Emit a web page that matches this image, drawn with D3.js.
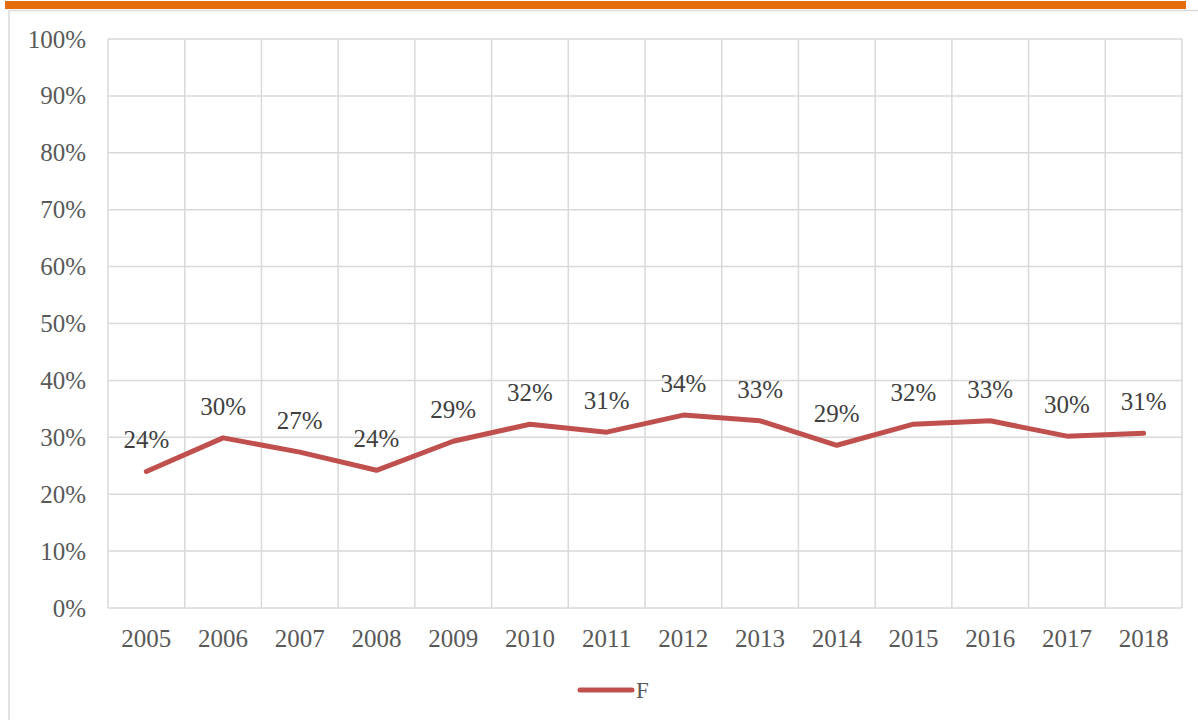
<!DOCTYPE html>
<html>
<head>
<meta charset="utf-8">
<script src="https://cdn.jsdelivr.net/npm/d3@7"></script>
<style>
  body { margin: 0; background: #fff; }
  svg { display: block; font-family: "Liberation Serif", "DejaVu Serif", serif; }
</style>
</head>
<body>
<svg id="chart" width="1198" height="720"></svg>
<script>
const years = ["2005", "2006", "2007", "2008", "2009", "2010", "2011", "2012", "2013", "2014", "2015", "2016", "2017", "2018"];
const valuesF = [0.24, 0.299, 0.274, 0.242, 0.293, 0.323, 0.309, 0.339, 0.329, 0.286, 0.323, 0.329, 0.302, 0.307];
const yTicks = [0, 0.1, 0.2, 0.3, 0.4, 0.5, 0.6, 0.7, 0.8, 0.9, 1.0];
const seriesName = "F";

const svg = d3.select("#chart");
const textColor = "#595959";
const gridColor = "#d9d9d9";
const lineColor = "#c0504d";
const fontSize = "25px";

// orange banner and chart frame
svg.append("rect").attr("x", 5).attr("y", 1).attr("width", 1181).attr("height", 8).attr("fill", "#e46c0a");
svg.append("path")
    .attr("d", "M9,720 V10.5 H1198")
    .attr("fill", "none")
    .attr("stroke", gridColor)
    .attr("stroke-width", 1.5);

const margin = { left: 108, right: 16, top: 39, bottom: 112 };
const width = 1198, height = 720;

const x = d3.scaleBand().domain(years).range([margin.left, width - margin.right]);
const y = d3.scaleLinear().domain([0, 1]).range([height - margin.bottom, margin.top]);

// horizontal grid
svg.append("g")
    .selectAll("line")
    .data(yTicks)
    .enter().append("line")
    .attr("x1", margin.left).attr("x2", width - margin.right)
    .attr("y1", d => y(d)).attr("y2", d => y(d))
    .attr("stroke", gridColor).attr("stroke-width", 1.5);

// vertical grid at category edges
const edges = years.map(d => x(d)).concat([x.range()[1]]);
svg.append("g")
    .selectAll("line")
    .data(edges)
    .enter().append("line")
    .attr("x1", d => d).attr("x2", d => d)
    .attr("y1", y(1)).attr("y2", y(0))
    .attr("stroke", gridColor).attr("stroke-width", 1.5);

// y axis labels
const yAxis = svg.append("g")
    .attr("transform", `translate(${margin.left - 22},0)`)
    .call(d3.axisLeft(y).tickValues(yTicks).tickFormat(d3.format(".0%")).tickSize(0).tickPadding(0));
yAxis.select(".domain").remove();
yAxis.selectAll("text")
    .attr("fill", textColor)
    .style("font-size", fontSize)
    .style("font-family", "Liberation Serif, serif");

// x axis labels
const xAxis = svg.append("g")
    .attr("transform", `translate(0,${y(0) + 21})`)
    .call(d3.axisBottom(x).tickSize(0).tickPadding(0));
xAxis.select(".domain").remove();
xAxis.selectAll("text")
    .attr("fill", textColor)
    .attr("dy", "0.71em")
    .style("font-size", fontSize)
    .style("font-family", "Liberation Serif, serif");

// series line
const line = d3.line()
    .x((d, i) => x(years[i]) + x.bandwidth() / 2)
    .y(d => y(d));

svg.append("path")
    .datum(valuesF)
    .attr("d", line)
    .attr("fill", "none")
    .attr("stroke", lineColor)
    .attr("stroke-width", 5)
    .attr("stroke-linecap", "round")
    .attr("stroke-linejoin", "round");

// data labels
svg.append("g")
    .selectAll("text")
    .data(valuesF)
    .enter().append("text")
    .attr("x", (d, i) => x(years[i]) + x.bandwidth() / 2)
    .attr("y", d => y(d) - 23)
    .attr("text-anchor", "middle")
    .attr("fill", "#404040")
    .style("font-size", fontSize)
    .text(d => d3.format(".0%")(d));

// legend
const lg = svg.append("g");
lg.append("line")
    .attr("x1", 580).attr("x2", 632)
    .attr("y1", 690).attr("y2", 690)
    .attr("stroke", lineColor).attr("stroke-width", 5)
    .attr("stroke-linecap", "round");
lg.append("text")
    .attr("x", 636).attr("y", 698)
    .attr("fill", textColor)
    .style("font-size", "23px")
    .text(seriesName);
</script>
</body>
</html>
